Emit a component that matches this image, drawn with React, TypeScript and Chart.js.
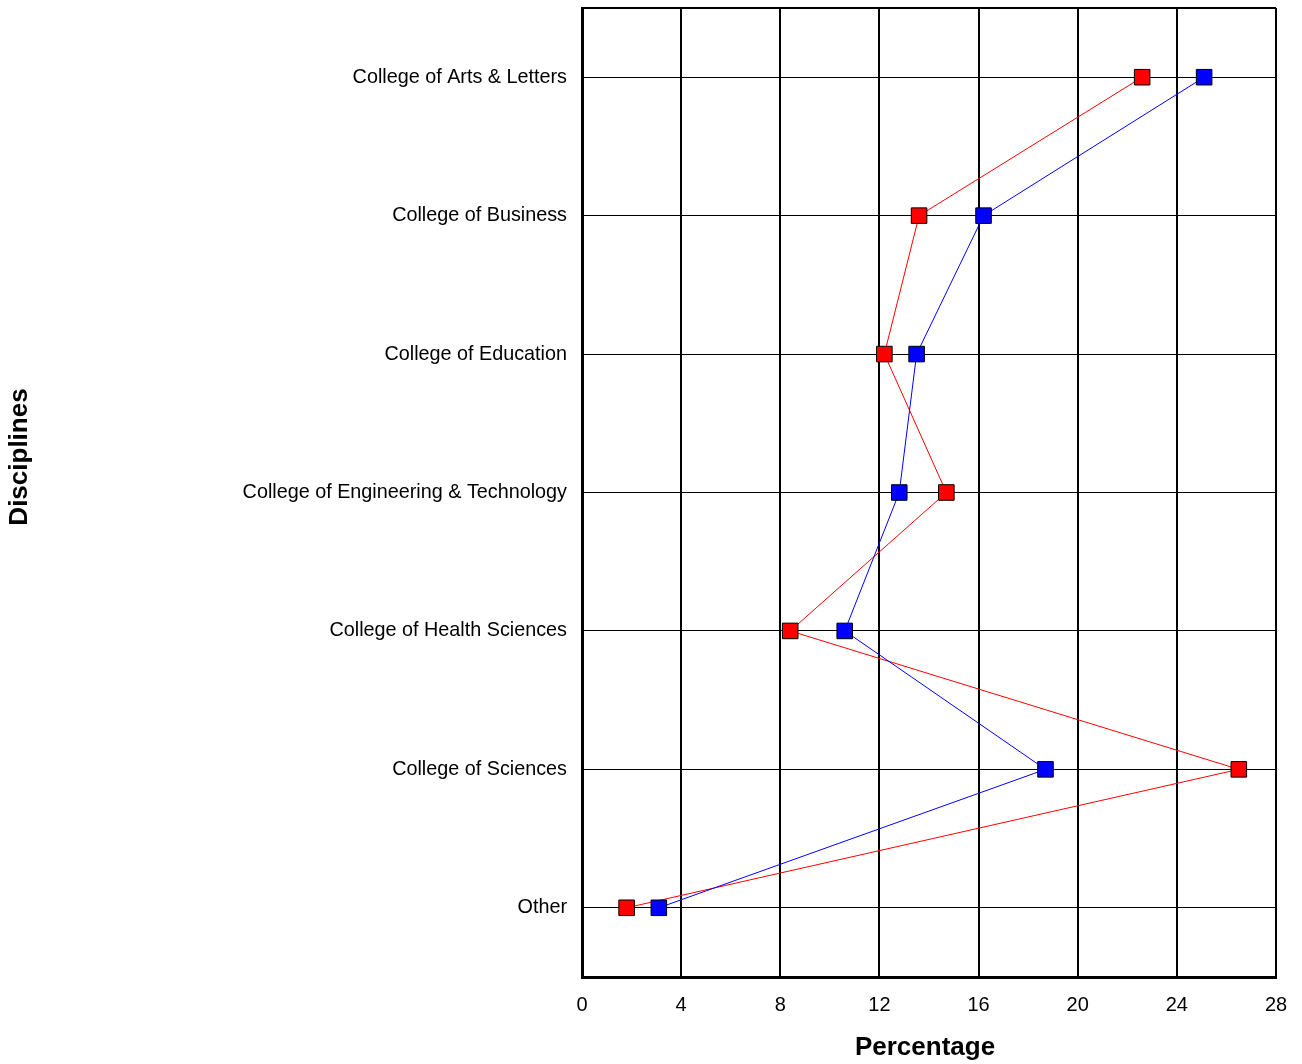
import React, { useEffect, useRef } from "react";
import { Chart, registerables } from "chart.js";

Chart.register(...registerables);

const categories = [
  "College of Arts & Letters",
  "College of Business",
  "College of Education",
  "College of Engineering & Technology",
  "College of Health Sciences",
  "College of Sciences",
  "Other",
];
const redValues = [22.6, 13.6, 12.2, 14.7, 8.4, 26.5, 1.8];
const blueValues = [25.1, 16.2, 13.5, 12.8, 10.6, 18.7, 3.1];
const xTicks = [0, 4, 8, 12, 16, 20, 24, 28];
const xTitle = "Percentage";
const yTitle = "Disciplines";

const FONT = "'Liberation Sans', Arial, Helvetica, sans-serif";

const decorations = {
  id: "decorations",
  afterDraw(chart: any) {
    const { ctx, chartArea } = chart;
    ctx.save();
    ctx.strokeStyle = "#000";
    ctx.lineWidth = 2;
    ctx.beginPath();
    ctx.moveTo(chartArea.left, chartArea.top);
    ctx.lineTo(chartArea.right, chartArea.top);
    ctx.stroke();

    ctx.fillStyle = "#000";
    ctx.font = `bold 26px ${FONT}`;
    ctx.textAlign = "center";
    ctx.textBaseline = "middle";
    ctx.fillText(xTitle, 925, 1048);
    ctx.translate(20, 457);
    ctx.rotate(-Math.PI / 2);
    ctx.fillText(yTitle, 0, 0);
    ctx.restore();
  },
};

export default function App() {
  const ref = useRef<HTMLCanvasElement>(null);
  useEffect(() => {
    if (!ref.current) return;
    const chart = new Chart(ref.current, {
      type: "line",
      data: {
        labels: categories,
        datasets: [
          {
            label: "Blue",
            data: blueValues,
            borderColor: "#0000ff",
            backgroundColor: "#0000ff",
            borderWidth: 1,
            pointStyle: "rect",
            pointRadius: 11,
            pointBorderColor: "#000",
            pointBorderWidth: 1,
            pointBackgroundColor: "#0000ff",
            tension: 0,
            order: 1,
          },
          {
            label: "Red",
            data: redValues,
            borderColor: "#ff0000",
            backgroundColor: "#ff0000",
            borderWidth: 1,
            pointStyle: "rect",
            pointRadius: 11,
            pointBorderColor: "#000",
            pointBorderWidth: 1,
            pointBackgroundColor: "#ff0000",
            tension: 0,
            order: 2,
          },
        ],
      },
      options: {
        indexAxis: "y",
        animation: false,
        responsive: false,
        maintainAspectRatio: false,
        layout: { autoPadding: false, padding: { top: 8, right: 26, left: 0, bottom: 0 } },
        plugins: { legend: { display: false }, tooltip: { enabled: false } },
        scales: {
          x: {
            type: "linear",
            min: 0,
            max: 28,
            afterBuildTicks: (s: any) => {
              s.ticks = xTicks.map((v) => ({ value: v }));
            },
            afterFit: (s: any) => {
              s.height = 87;
              s.paddingLeft = 0;
              s.paddingRight = 0;
            },
            ticks: {
              color: "#000",
              padding: 16,
              font: { family: FONT, size: 20 },
            },
            grid: { color: "#000", lineWidth: 2, drawTicks: false },
            border: { color: "#000", width: 3 },
          },
          y: {
            type: "category",
            offset: true,
            afterFit: (s: any) => {
              s.width = 582;
              s.paddingTop = 0;
              s.paddingBottom = 0;
            },
            ticks: {
              color: "#000",
              padding: 15,
              font: { family: FONT, size: 19.8 },
              autoSkip: false,
            },
            grid: { color: "#000", lineWidth: 1, drawTicks: false, offset: false },
            border: { color: "#000", width: 3 },
          },
        },
      },
      plugins: [decorations],
    } as any);
    return () => chart.destroy();
  }, []);
  return (
    <div style={{ position: "absolute", left: 0, top: 0, width: 1302, height: 1064, background: "#fff" }}>
      <canvas ref={ref} width={1302} height={1064} style={{ width: 1302, height: 1064, display: "block" }} />
    </div>
  );
}
